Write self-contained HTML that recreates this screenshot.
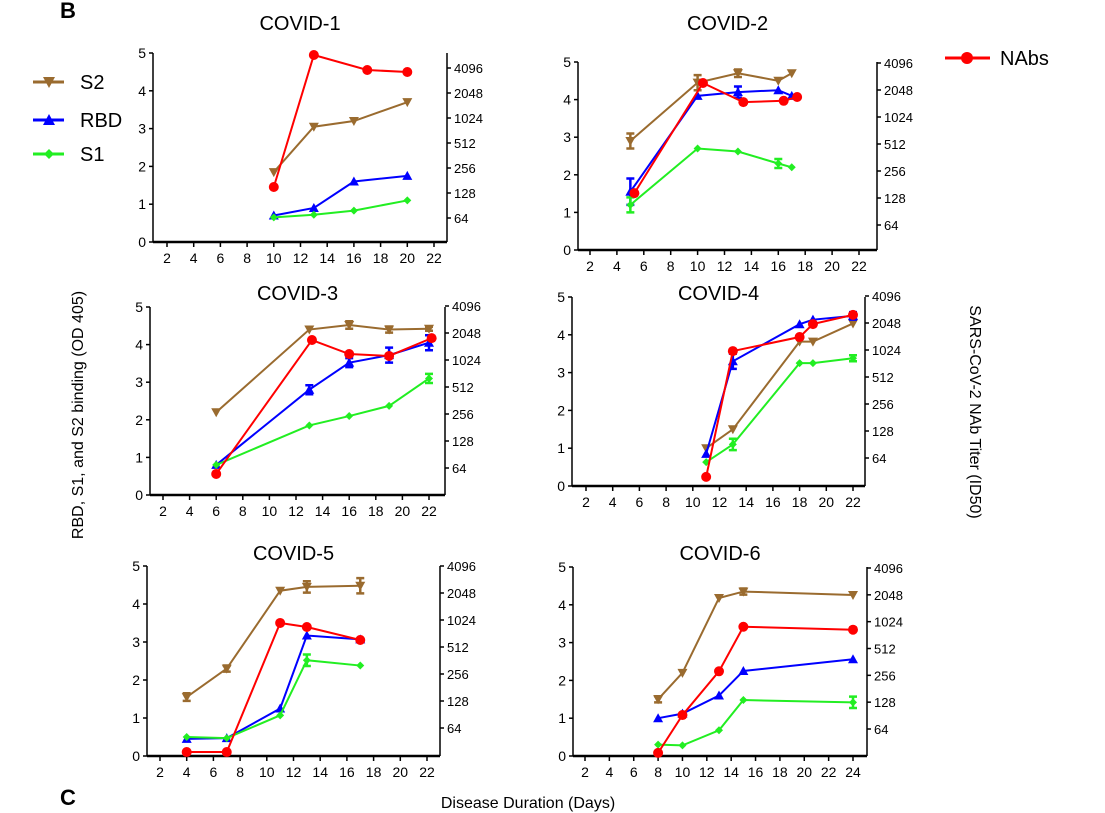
<!DOCTYPE html>
<html><head><meta charset="utf-8"><style>
body{margin:0;background:#fff;}
svg{display:block;font-family:"Liberation Sans",Arial,sans-serif;}
</style></head><body>
<svg id="fig" width="1105" height="813" viewBox="0 0 1105 813">
<text x="60" y="18" font-size="22" font-weight="bold">B</text>
<text x="60" y="805" font-size="22" font-weight="bold">C</text>
<g>
 <g><line x1="33" y1="82" x2="64" y2="82" stroke="#9a6b2f" stroke-width="3"/><polygon points="43,77 55,77 49,88" fill="#9a6b2f"/><text x="80" y="89" font-size="20">S2</text></g>
 <g><line x1="33" y1="120" x2="64" y2="120" stroke="#0000ff" stroke-width="3"/><polygon points="43,125 55,125 49,114" fill="#0000ff"/><text x="80" y="127" font-size="20">RBD</text></g>
 <g><line x1="33" y1="154" x2="64" y2="154" stroke="#22ee22" stroke-width="3"/><polygon points="49,149 54,154 49,159 44,154" fill="#22ee22"/><text x="80" y="161" font-size="20">S1</text></g>
 <g><line x1="945" y1="58" x2="990" y2="58" stroke="#ff0000" stroke-width="3"/><circle cx="967" cy="58" r="6" fill="#ff0000"/><text x="1000" y="65" font-size="20">NAbs</text></g>
</g>
<text transform="translate(83,415) rotate(-90)" text-anchor="middle" font-size="16">RBD, S1, and S2 binding (OD 405)</text>
<text transform="translate(970,412) rotate(90)" text-anchor="middle" font-size="16">SARS-CoV-2 NAb Titer (ID50)</text>
<text x="528" y="808" text-anchor="middle" font-size="16">Disease Duration (Days)</text>
<g id="panels"></g>
</svg>
<script>
// ---- data (OD values; NAbs in log2 titer) ----
const titles = ["COVID-1","COVID-2","COVID-3","COVID-4","COVID-5","COVID-6"];
const s2Days = [[10,13,16,20],[5,10,13,16,17],[6,13,16,19,22],[11,13,18,19,22],[4,7,11,13,17],[8,10,13,15,24]];
const s2Vals = [[1.85,3.05,3.2,3.7],[2.9,4.45,4.7,4.5,4.7],[2.2,4.4,4.52,4.4,4.42],[1.0,1.5,3.82,3.82,4.3],[1.55,2.3,4.35,4.45,4.48],[1.5,2.2,4.18,4.35,4.26]];
const s2Err = [[0,0,0,0],[0.2,0.2,0.1,0,0],[0,0,0.1,0.08,0.05],[0,0,0,0,0],[0.1,0.08,0,0.15,0.2],[0.08,0,0,0.08,0]];
const rbdDays = [[10,13,16,20],[5,10,13,16,17],[6,13,16,19,22],[11,13,18,19,22],[4,7,11,13,17],[8,10,13,15,24]];
const rbdVals = [[0.7,0.9,1.6,1.75],[1.55,4.1,4.2,4.25,4.1],[0.8,2.8,3.52,3.72,4.05],[0.85,3.3,4.28,4.4,4.5],[0.45,0.47,1.25,3.17,3.07],[1.0,1.12,1.6,2.25,2.56]];
const rbdErr = [[0,0,0,0],[0.35,0,0.15,0,0],[0,0.12,0.12,0.2,0.2],[0,0.2,0,0,0.1],[0,0,0,0,0],[0,0,0,0,0]];
const s1Days = [[10,13,16,20],[5,10,13,16,17],[6,13,16,19,22],[11,13,18,19,22],[4,7,11,13,17],[8,10,13,15,24]];
const s1Vals = [[0.65,0.72,0.83,1.1],[1.2,2.7,2.62,2.3,2.2],[0.8,1.85,2.1,2.37,3.1],[0.63,1.1,3.25,3.25,3.38],[0.5,0.47,1.07,2.52,2.38],[0.3,0.28,0.68,1.48,1.42]];
const s1Err = [[0,0,0,0],[0.2,0,0,0.12,0],[0,0,0,0,0.12],[0,0.15,0,0,0.08],[0,0,0,0.15,0],[0,0,0,0,0.15]];
const nabDays = [[10,13,17,20],[5.3,10.4,13.4,16.4,17.4],[6,13.2,16,19,22.2],[11,13,18,19,22],[4,7,11,13,17],[8,10,13,15,24]];
const nabLog2 = [[7.24,12.52,11.92,11.84],[7.18,11.26,10.55,10.6,10.74],[5.78,10.74,10.22,10.15,10.81],[5.3,9.96,10.48,10.96,11.3],[5.11,5.11,9.89,9.74,9.26],[5.11,6.52,8.15,9.81,9.7]];
const xTicks = [[2,4,6,8,10,12,14,16,18,20,22],[2,4,6,8,10,12,14,16,18,20,22],[2,4,6,8,10,12,14,16,18,20,22],[2,4,6,8,10,12,14,16,18,20,22],[2,4,6,8,10,12,14,16,18,20,22],[2,4,6,8,10,12,14,16,18,20,22,24]];
const yTicks = [0,1,2,3,4,5];
const rTicks = [64,128,256,512,1024,2048,4096];
// geometry per panel
const G = [
 {L:153,R:447,y0:242,y5:53,dA:2,xA:167,dB:22,xB:434,r64:218,r4096:68,ty:30},
 {L:578,R:877,y0:250,y5:62,dA:2,xA:590,dB:22,xB:859,r64:225,r4096:63,ty:30},
 {L:150,R:445,y0:495,y5:307,dA:2,xA:163,dB:22,xB:429,r64:468,r4096:306,ty:300},
 {L:572,R:865,y0:486,y5:297,dA:2,xA:586,dB:22,xB:853,r64:458,r4096:296,ty:300},
 {L:147,R:440,y0:756,y5:566,dA:2,xA:160,dB:22,xB:427,r64:728,r4096:566,ty:560},
 {L:573,R:867,y0:756,y5:567,dA:2,xA:585,dB:24,xB:853,r64:729,r4096:568,ty:560}
];
const NS="http://www.w3.org/2000/svg";
function mk(tag,attrs,parent){const e=document.createElementNS(NS,tag);for(const k in attrs)e.setAttribute(k,attrs[k]);parent.appendChild(e);return e;}
const root=document.getElementById('panels');
function marker(g,shape,x,y,c){
 if(shape==='down') return mk('polygon',{points:`${x-5},${y-4} ${x+5},${y-4} ${x},${y+5}`,fill:c},g);
 if(shape==='up') return mk('polygon',{points:`${x-5},${y+4} ${x+5},${y+4} ${x},${y-5}`,fill:c},g);
 if(shape==='dia') return mk('polygon',{points:`${x},${y-4} ${x+4},${y} ${x},${y+4} ${x-4},${y}`,fill:c},g);
 return mk('circle',{cx:x,cy:y,r:5,fill:c},g);
}
titles.forEach((t,i)=>{
 const p=G[i];
 const X=d=>p.xA+(d-p.dA)*(p.xB-p.xA)/(p.dB-p.dA);
 const Y=v=>p.y0+(p.y5-p.y0)*v/5;
 const YR=l=>p.r64+(p.r4096-p.r64)*(l-6)/6;
 const g=mk('g',{},root);
 
 
 const tt=mk('text',{x:(p.L+p.R)/2,y:p.ty,'text-anchor':'middle','font-size':20},g);tt.textContent=t;
 
 
 const ax=mk('g',{stroke:'#000','stroke-width':1.5},g);
 
 
 mk('line',{x1:p.L,y1:p.y5,x2:p.L,y2:p.y0},ax);
 mk('line',{x1:p.R,y1:p.y5,x2:p.R,y2:p.y0},ax);
 mk('line',{x1:p.L,y1:p.y0,x2:p.R,y2:p.y0,'stroke-width':2.5},ax);
 yTicks.forEach(v=>{mk('line',{x1:p.L-4,y1:Y(v),x2:p.L,y2:Y(v)},ax);
  const tx=mk('text',{x:p.L-7,y:Y(v)+5,'text-anchor':'end','font-size':14,stroke:'none'},g);tx.textContent=v;
  
  });
 rTicks.forEach(r=>{const y=YR(Math.log2(r));mk('line',{x1:p.R,y1:y,x2:p.R+4,y2:y},ax);
  const tx=mk('text',{x:p.R+7,y:y+5,'font-size':13},g);tx.textContent=r;
  
  });
 xTicks[i].forEach(d=>{mk('line',{x1:X(d),y1:p.y0,x2:X(d),y2:p.y0+5},ax);
  const tx=mk('text',{x:X(d),y:p.y0+21,'text-anchor':'middle','font-size':14},g);tx.textContent=d;
  
  });
 const series=[
  ['s2',s2Days[i],s2Vals[i].map(Y),s2Err[i],'#9a6b2f','down'],
  ['rbd',rbdDays[i],rbdVals[i].map(Y),rbdErr[i],'#0000ff','up'],
  ['s1',s1Days[i],s1Vals[i].map(Y),s1Err[i],'#22ee22','dia'],
  ['nabs',nabDays[i],nabLog2[i].map(YR),null,'#ff0000','circ']];
 series.forEach(([nm,ds,ys,er,c,sh])=>{
  const sg=mk('g',{},g);
  
  
  mk('polyline',{points:ds.map((d,k)=>X(d)+','+ys[k]).join(' '),fill:'none',stroke:c,'stroke-width':2},sg);
  ds.forEach((d,k)=>{
   const x=X(d),y=ys[k];
   if(er&&er[k]>0){const e=er[k]*(p.y0-p.y5)/5;
    mk('path',{d:`M${x},${y-e}V${y+e}M${x-4},${y-e}H${x+4}M${x-4},${y+e}H${x+4}`,stroke:c,'stroke-width':2.5,fill:'none'},sg);}
   const m=marker(sg,sh,x,y,c);
   
   
  });
 });
});
</script>
</body></html>
